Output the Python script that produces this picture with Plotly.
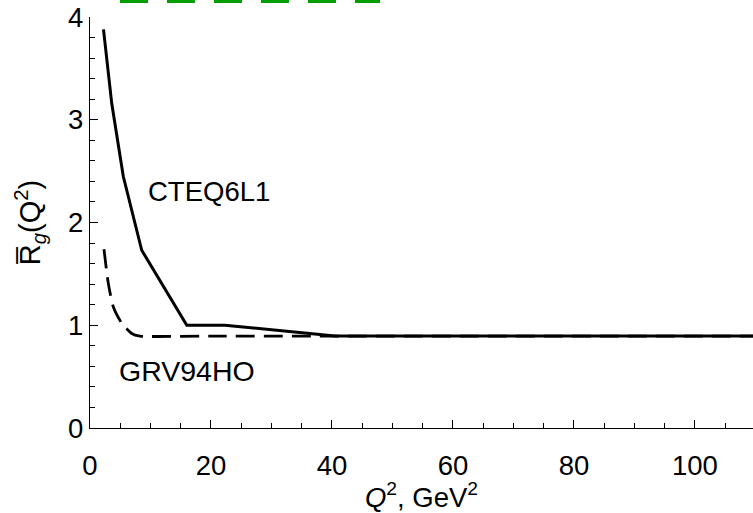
import plotly.graph_objects as go

# CTEQ6L1 (solid)
cteq_q2 = [2.23, 3.59, 5.5, 8.55, 16.0, 22.3, 40.5, 110.0]
cteq_r = [3.88, 3.16, 2.45, 1.73, 1.00, 1.00, 0.895, 0.895]

# GRV94HO (dashed)
grv_q2 = [2.31, 3.02, 3.85, 5.24, 6.89, 8.26, 20.0, 110.0]
grv_r = [1.74, 1.41, 1.18, 1.02, 0.92, 0.895, 0.895, 0.895]

x_ticks = [0, 20, 40, 60, 80, 100]
y_ticks = [0, 1, 2, 3, 4]

FONT = "Liberation Sans, Arial, sans-serif"

fig = go.Figure()
fig.add_trace(go.Scatter(x=cteq_q2, y=cteq_r, mode="lines",
                         line=dict(color="black", width=3), name="CTEQ6L1",
                         showlegend=False))
fig.add_trace(go.Scatter(x=grv_q2, y=grv_r, mode="lines",
                         line=dict(color="black", width=2.8, dash="19px,9px",
                                   shape="spline", smoothing=0.6),
                         name="GRV94HO", showlegend=False))

fig.add_annotation(x=19.7, y=2.30, text="CTEQ6L1", showarrow=False,
                   font=dict(family=FONT, size=27.5, color="black"))
fig.add_annotation(x=16.0, y=0.55, text="GRV94HO", showarrow=False,
                   font=dict(family=FONT, size=28.5, color="black"))

# cropped green dashed border at the top edge
fig.add_shape(type="line", xref="paper", yref="paper",
              x0=0.0452, x1=0.4374, y0=1.0438, y1=1.0438,
              line=dict(color="#009e00", width=8, dash="28px,19px"))

fig.update_xaxes(range=[0, 109.6], tickvals=x_ticks, ticks="inside", ticklen=8,
                 tickwidth=1.2, tickcolor="black", showline=True, linecolor="black",
                 linewidth=1.3, showgrid=False, zeroline=False, mirror=False,
                 tickfont=dict(family=FONT, size=27.5, color="black"),
                 ticklabelstandoff=13,
                 minor=dict(ticks="inside", ticklen=5, dtick=5, tickcolor="black",
                            tickwidth=1, showgrid=False),
                 title=dict(text="<i>Q</i><sup>2</sup>, GeV<sup>2</sup>",
                            font=dict(family=FONT, size=27.5, color="black"),
                            standoff=2))
fig.update_yaxes(range=[0, 4], tickvals=y_ticks, ticks="inside", ticklen=8,
                 tickwidth=1.2, tickcolor="black", showline=True, linecolor="black",
                 linewidth=1.3, showgrid=False, zeroline=False,
                 tickfont=dict(family=FONT, size=27.5, color="black"),
                 ticklabelstandoff=0,
                 minor=dict(ticks="inside", ticklen=5, dtick=0.2, tickcolor="black",
                            tickwidth=1, showgrid=False),
                 title=dict(text="R\u0305<sub><i>g</i></sub>(Q<sup>2</sup>)",
                            font=dict(family=FONT, size=29, color="black"),
                            standoff=18))

fig.update_layout(width=753, height=513, autosize=False,
                  margin=dict(l=90, r=0, t=17, b=85),
                  paper_bgcolor="white", plot_bgcolor="white")

fig.write_html("out.html")
